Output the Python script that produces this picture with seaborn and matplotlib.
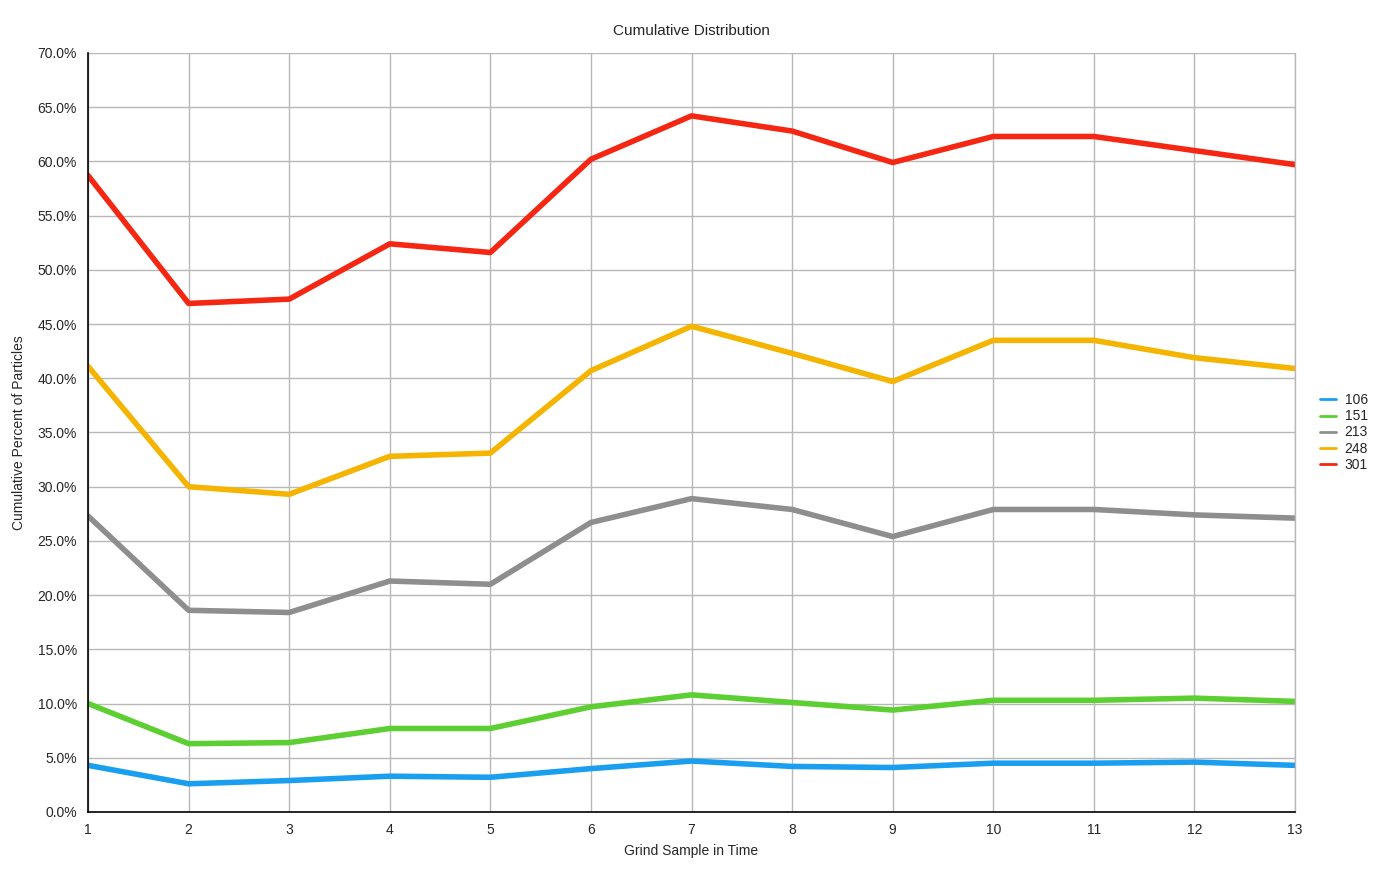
import pandas as pd
import seaborn as sns
import matplotlib.pyplot as plt
from matplotlib.ticker import PercentFormatter, MultipleLocator

samples = list(range(1, 14))
s106 = [4.3, 2.6, 2.9, 3.3, 3.2, 4.0, 4.7, 4.2, 4.1, 4.5, 4.5, 4.6, 4.3]
s151 = [10.0, 6.3, 6.4, 7.7, 7.7, 9.7, 10.8, 10.1, 9.4, 10.3, 10.3, 10.5, 10.2]
s213 = [27.3, 18.6, 18.4, 21.3, 21.0, 26.7, 28.9, 27.9, 25.4, 27.9, 27.9, 27.4, 27.1]
s248 = [41.1, 30.0, 29.3, 32.8, 33.1, 40.7, 44.8, 42.3, 39.7, 43.5, 43.5, 41.9, 40.9]
s301 = [58.7, 46.9, 47.3, 52.4, 51.6, 60.2, 64.2, 62.8, 59.9, 62.3, 62.3, 61.0, 59.7]

sizes = ['106', '151', '213', '248', '301']
colors = ['#1a9ff0', '#5dcf32', '#8e8e8e', '#f5b400', '#f52612']

df = pd.DataFrame({'Sample': samples, '106': s106, '151': s151,
                   '213': s213, '248': s248, '301': s301})
df = df.melt(id_vars='Sample', var_name='Size', value_name='Percent')

sns.set_style('white')
plt.rcParams['font.family'] = ['Liberation Sans', 'DejaVu Sans']

fig = plt.figure(figsize=(14, 8.73), dpi=100)
ax = fig.add_axes([0.0629, 0.0699, 0.8621, 0.8694])

sns.lineplot(data=df, x='Sample', y='Percent', hue='Size', hue_order=sizes,
             palette=colors, linewidth=4, ax=ax)

ax.set_xlim(1, 13)
ax.set_ylim(0, 70)
ax.xaxis.set_major_locator(MultipleLocator(1))
ax.yaxis.set_major_locator(MultipleLocator(5))
ax.yaxis.set_major_formatter(PercentFormatter(decimals=1))
ax.grid(True, color='#b8b8b8', linewidth=1)
ax.set_axisbelow(True)
ax.spines['top'].set_visible(False)
ax.spines['right'].set_color('#b8b8b8')
ax.spines['right'].set_linewidth(1)
for side in ['left', 'bottom']:
    ax.spines[side].set_color('black')
    ax.spines[side].set_linewidth(1.2)
ax.tick_params(axis='both', length=0, labelsize=10, pad=8)

ax.set_title('Cumulative Distribution', fontsize=11, pad=13)
ax.set_xlabel('Grind Sample in Time', fontsize=10, labelpad=5)
ax.set_ylabel('Cumulative Percent of Particles', fontsize=10, labelpad=8)

ax.legend(loc='center left', bbox_to_anchor=(1.01, 0.5), frameon=False,
          fontsize=10, handlelength=1.2, handletextpad=0.6, labelspacing=0.15)
for line in ax.get_legend().get_lines():
    line.set_linewidth(2)

fig.savefig('out.png', dpi=100)
